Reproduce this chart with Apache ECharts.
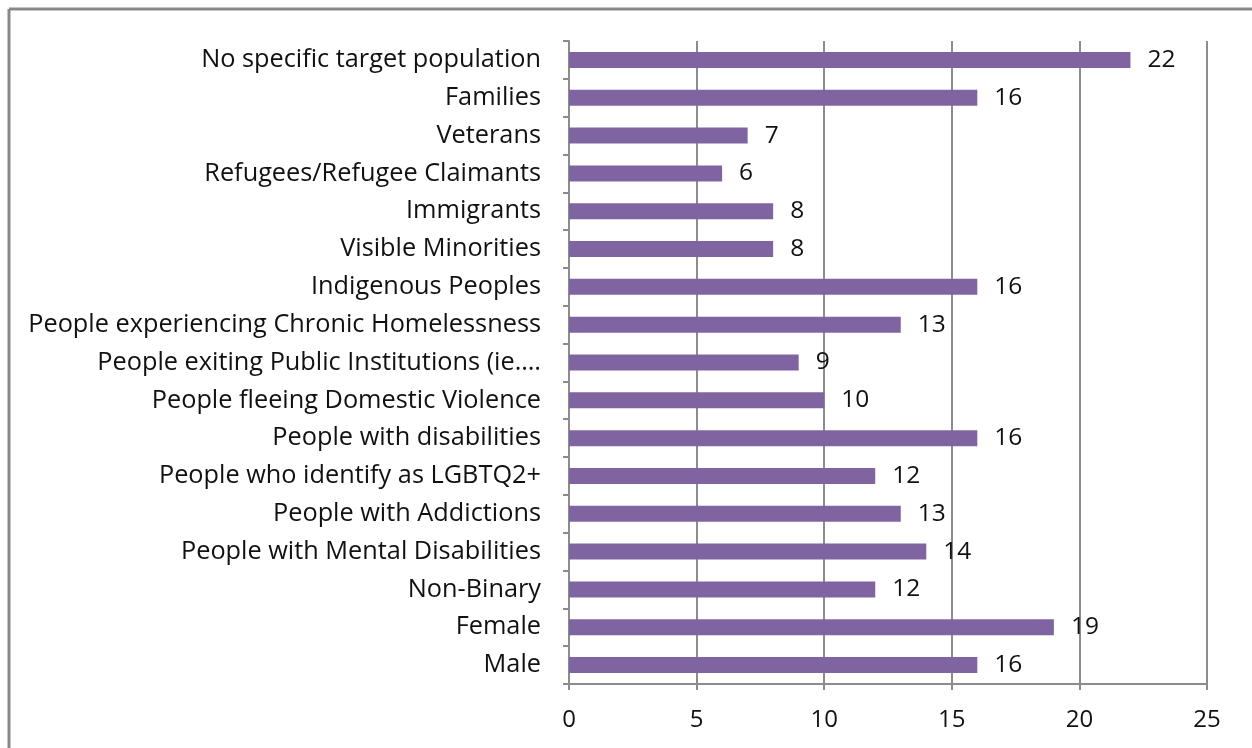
<!DOCTYPE html>
<html><head><meta charset="utf-8">
<script src="https://cdn.jsdelivr.net/npm/echarts@6/dist/echarts.min.js"></script>
<style>html,body{margin:0;padding:0;background:#fff}#c{width:1252px;height:748px}</style>
</head><body><div id="c"></div>
<script>
const categories = [
  "No specific target population",
  "Families",
  "Veterans",
  "Refugees/Refugee Claimants",
  "Immigrants",
  "Visible Minorities",
  "Indigenous Peoples",
  "People experiencing Chronic Homelessness",
  "People exiting Public Institutions (ie.…",
  "People fleeing Domestic Violence",
  "People with disabilities",
  "People who identify as LGBTQ2+",
  "People with Addictions",
  "People with Mental Disabilities",
  "Non-Binary",
  "Female",
  "Male"
];
const values = [22, 16, 7, 6, 8, 8, 16, 13, 9, 10, 16, 12, 13, 14, 12, 19, 16];
const xTicks = [0, 5, 10, 15, 20, 25];

const FONT = "Open Sans";
const chart = echarts.init(document.getElementById('c'), null, {renderer: 'canvas'});
chart.setOption({
  animation: false,
  backgroundColor: '#fff',
  textStyle: {fontFamily: FONT},
  graphic: [
    {type: 'line', shape: {x1: 9, y1: 9, x2: 1260, y2: 9}, style: {stroke: '#888', lineWidth: 3}},
    {type: 'line', shape: {x1: 9, y1: 9, x2: 9, y2: 760}, style: {stroke: '#888', lineWidth: 3}}
  ],
  grid: {left: 569, right: 45, top: 41, bottom: 64, containLabel: false},
  xAxis: {
    type: 'value', min: xTicks[0], max: xTicks[xTicks.length - 1], interval: 5,
    axisLine: {show: true, lineStyle: {color: '#8c8c8c', width: 2}},
    axisTick: {show: true, length: 6, lineStyle: {color: '#8c8c8c', width: 2}},
    splitLine: {show: true, lineStyle: {color: '#8c8c8c', width: 2}},
    axisLabel: {color: '#111', fontSize: 24, fontFamily: FONT, margin: 24}
  },
  yAxis: {
    type: 'category', data: categories, inverse: true,
    axisLine: {show: true, lineStyle: {color: '#8c8c8c', width: 2}},
    axisTick: {show: true, length: 6, lineStyle: {color: '#8c8c8c', width: 2}},
    axisLabel: {color: '#111', fontSize: 25.3, fontFamily: FONT, margin: 28}
  },
  series: [{
    type: 'bar', data: values, barWidth: 16,
    itemStyle: {color: '#8064A2'},
    label: {show: true, position: 'right', distance: 17, color: '#111', fontSize: 24.5, fontFamily: FONT}
  }]
});
</script></body></html>
